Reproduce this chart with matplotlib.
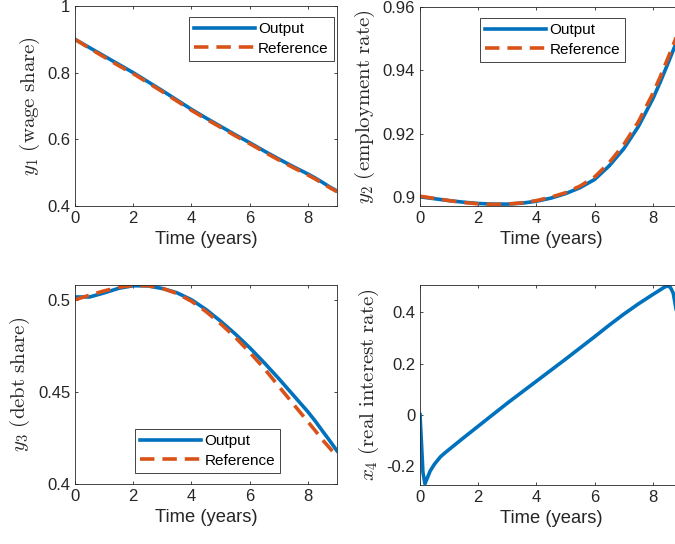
import matplotlib
matplotlib.use('Agg')
import matplotlib.pyplot as plt
from matplotlib.ticker import FormatStrFormatter

plt.rcParams['font.family'] = 'Liberation Sans'
plt.rcParams['mathtext.fontset'] = 'cm'
plt.rcParams['axes.unicode_minus'] = False

# time grid (years)
t = [0, 0.5, 1, 1.5, 2, 2.5, 3, 3.5, 4, 4.5, 5, 5.5, 6, 6.5, 7, 7.5, 8, 8.25, 8.5, 8.75, 9]

# y1: wage share
y1_out = [0.900, 0.875, 0.850, 0.825, 0.800, 0.773, 0.746, 0.718, 0.690, 0.664, 0.639,
          0.614, 0.590, 0.565, 0.541, 0.518, 0.496, 0.484, 0.471, 0.457, 0.445]
y1_ref = [0.900, 0.873, 0.847, 0.821, 0.797, 0.770, 0.743, 0.715, 0.687, 0.661, 0.636,
          0.611, 0.587, 0.562, 0.538, 0.515, 0.493, 0.481, 0.468, 0.455, 0.443]

# y2: employment rate
y2_out = [0.9000, 0.8994, 0.8988, 0.8983, 0.8979, 0.8977, 0.8977, 0.8980, 0.8986, 0.8996,
          0.9010, 0.9029, 0.9055, 0.9098, 0.9152, 0.9222, 0.9310, 0.9362, 0.9418, 0.9475, 0.9540]
y2_ref = [0.9002, 0.8995, 0.8988, 0.8982, 0.8978, 0.8976, 0.8977, 0.8981, 0.8988, 0.8999,
          0.9013, 0.9034, 0.9063, 0.9108, 0.9165, 0.9237, 0.9327, 0.9379, 0.9435, 0.9492, 0.9558]

# y3: debt share
y3_out = [0.5015, 0.5015, 0.5037, 0.5062, 0.5076, 0.5075, 0.5061, 0.5038, 0.5000, 0.4947,
          0.4884, 0.4815, 0.4740, 0.4658, 0.4572, 0.4482, 0.4392, 0.4342, 0.4288, 0.4235, 0.4180]
y3_ref = [0.5000, 0.5025, 0.5048, 0.5068, 0.5078, 0.5076, 0.5062, 0.5034, 0.4992, 0.4936,
          0.4870, 0.4797, 0.4715, 0.4627, 0.4530, 0.4434, 0.4338, 0.4290, 0.4240, 0.4195, 0.4150]

# x4: real interest rate
t4 = [0, 0.05, 0.1, 0.17, 0.25, 0.35, 0.5, 0.7, 0.85, 1, 1.25, 1.5, 2, 2.5, 3, 3.5, 4,
      4.5, 5, 5.5, 6, 6.5, 7, 7.5, 8, 8.25, 8.4, 8.5, 8.6, 8.7, 8.8, 9]
x4_out = [0, -0.11, -0.225, -0.27, -0.248, -0.220, -0.193, -0.165, -0.150, -0.136, -0.113,
          -0.090, -0.045, 0.000, 0.045, 0.088, 0.131, 0.174, 0.217, 0.261, 0.305, 0.350,
          0.393, 0.433, 0.470, 0.488, 0.499, 0.503, 0.498, 0.475, 0.41, 0.28]

blue = '#0072BD'
orange = '#D95319'
dark = '#262626'
W, H = 675.0, 544.0


def make_axes(x0, y_top, w, h):
    ax = fig.add_axes([x0 / W, (H - y_top - h) / H, w / W, h / H])
    for s in ax.spines.values():
        s.set_color(dark)
        s.set_linewidth(0.6)
    ax.tick_params(direction='in', top=True, right=True, length=2.5, width=0.6,
                   colors=dark, labelsize=12)
    ax.set_xlim(0, 9)
    ax.set_xticks([0, 2, 4, 6, 8])
    ax.yaxis.set_major_formatter(FormatStrFormatter('%g'))
    ax.set_xlabel('Time (years)', fontsize=13.2, color=dark)
    return ax


def add_legend(ax, loc, anchor):
    leg = ax.legend(loc=loc, bbox_to_anchor=anchor, borderaxespad=0, fontsize=11,
                    handlelength=4.0, handletextpad=0.2, labelspacing=0.35,
                    borderpad=0.35, fancybox=False, framealpha=1)
    leg.get_frame().set_edgecolor(dark)
    leg.get_frame().set_linewidth(0.6)


lw = 2.6
dash = (4, 2.2)
ylab = 15

fig = plt.figure(figsize=(6.75, 5.44), dpi=100)

ax1 = make_axes(75, 6, 262, 200)
ax1.plot(t, y1_out, color=blue, lw=lw, label='Output')
ax1.plot(t, y1_ref, color=orange, lw=lw, dashes=dash, label='Reference')
ax1.set_ylim(0.4, 1)
ax1.set_yticks([0.4, 0.6, 0.8, 1])
ax1.set_ylabel(r'$y_1\ \mathrm{(wage\ share)}$', fontsize=ylab, color=dark)
add_legend(ax1, 'upper right', (0.989, 0.945))

ax2 = make_axes(420, 7, 262, 199)
ax2.plot(t, y2_out, color=blue, lw=lw, label='Output')
ax2.plot(t, y2_ref, color=orange, lw=lw, dashes=dash, label='Reference')
ax2.set_ylim(0.8971, 0.96)
ax2.set_yticks([0.9, 0.92, 0.94, 0.96])
ax2.set_ylabel(r'$y_2\ \mathrm{(employment\ rate)}$', fontsize=ylab, color=dark)
add_legend(ax2, 'upper left', (0.229, 0.945))

ax3 = make_axes(75, 285, 262, 199)
ax3.plot(t, y3_out, color=blue, lw=lw, label='Output')
ax3.plot(t, y3_ref, color=orange, lw=lw, dashes=dash, label='Reference')
ax3.set_ylim(0.4, 0.508)
ax3.set_yticks([0.4, 0.45, 0.5])
ax3.set_ylabel(r'$y_3\ \mathrm{(debt\ share)}$', fontsize=ylab, color=dark)
add_legend(ax3, 'lower left', (0.229, 0.055))

ax4 = make_axes(420, 285, 262, 200)
ax4.plot(t4, x4_out, color=blue, lw=lw)
ax4.set_ylim(-0.275, 0.507)
ax4.set_yticks([-0.2, 0, 0.2, 0.4])
ax4.set_ylabel(r'$x_4\ \mathrm{(real\ interest\ rate)}$', fontsize=ylab, color=dark)

fig.savefig('out.png', dpi=100)
